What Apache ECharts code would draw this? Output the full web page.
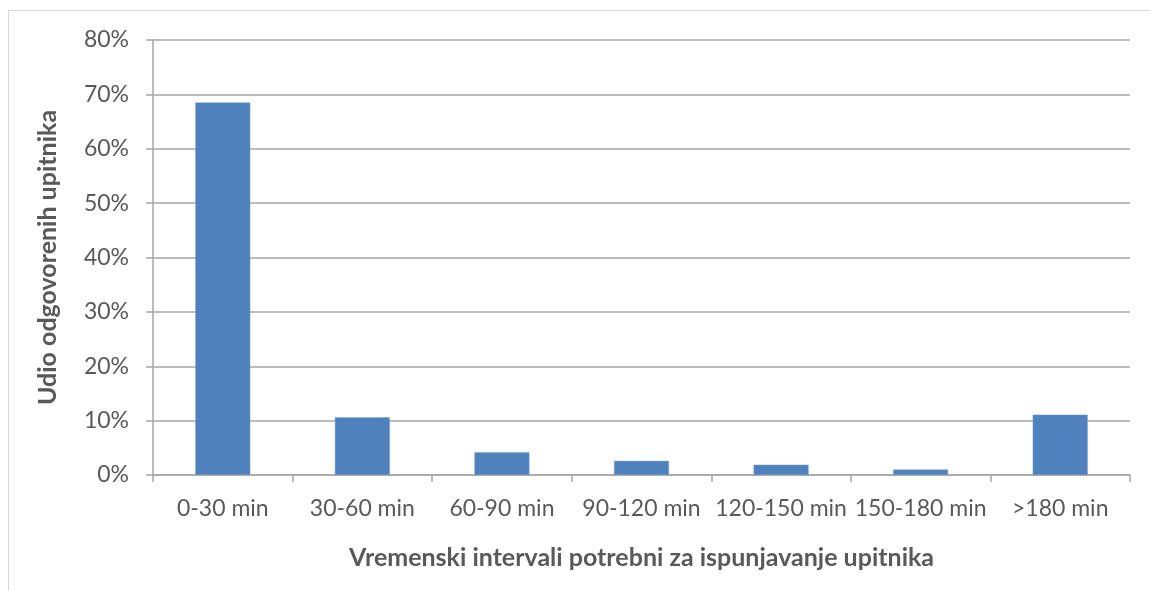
<!DOCTYPE html>
<html>
<head>
<meta charset="utf-8">
<script src="https://cdn.jsdelivr.net/npm/echarts@6/dist/echarts.min.js"></script>
<style>
  html, body { margin: 0; padding: 0; background: #fff; }
  #chart { width: 1151px; height: 591px; }
  #frame { position: absolute; left: 8px; top: 10px; width: 1160px; height: 600px; border: 1px solid #d9d9d9; }
</style>
</head>
<body>
<div id="frame"></div>
<div id="chart" style="position:absolute;left:0;top:0;"></div>
<script>
var categories = ["0-30 min", "30-60 min", "60-90 min", "90-120 min", "120-150 min", "150-180 min", ">180 min"];
var shares = [68.5, 10.6, 4.2, 2.6, 1.9, 1.0, 11.1];
var yTicks = [0, 10, 20, 30, 40, 50, 60, 70, 80];

var font = "Lato, 'Open Sans', sans-serif";

var chart = echarts.init(document.getElementById("chart"));
chart.setOption({
    animation: false,
    grid: { left: 153, right: 21, top: 40, bottom: 116 },
    xAxis: {
        type: "category",
        data: categories,
        name: "Vremenski intervali potrebni za ispunjavanje upitnika",
        nameLocation: "middle",
        nameGap: 70,
        nameTextStyle: { fontFamily: font, fontSize: 25, fontWeight: "bold", color: "#595959" },
        axisLine: { lineStyle: { color: "#a6a6a6", width: 1.5 } },
        axisTick: { show: true, alignWithLabel: false, length: 7, lineStyle: { color: "#a6a6a6", width: 1.5 } },
        axisLabel: { fontFamily: font, fontSize: 23, color: "#595959", margin: 22, interval: 0 }
    },
    yAxis: {
        type: "value",
        min: yTicks[0],
        max: yTicks[yTicks.length - 1],
        interval: 10,
        name: "Udio odgovorenih upitnika",
        nameLocation: "middle",
        nameGap: 93,
        nameRotate: 90,
        nameTextStyle: { fontFamily: font, fontSize: 25, fontWeight: "bold", color: "#595959" },
        axisLine: { show: true, lineStyle: { color: "#a6a6a6", width: 1.5 } },
        axisTick: { show: true, length: 7, lineStyle: { color: "#a6a6a6", width: 1.5 } },
        axisLabel: { fontFamily: font, fontSize: 23, color: "#595959", margin: 24, formatter: "{value}%" },
        splitLine: { lineStyle: { color: "#a6a6a6", width: 1.5 } }
    },
    series: [{
        type: "bar",
        data: shares,
        barWidth: 55,
        itemStyle: { color: "#4f81bd", borderColor: "#7aa0d0", borderWidth: 0.5 }
    }]
});
</script>
</body>
</html>
